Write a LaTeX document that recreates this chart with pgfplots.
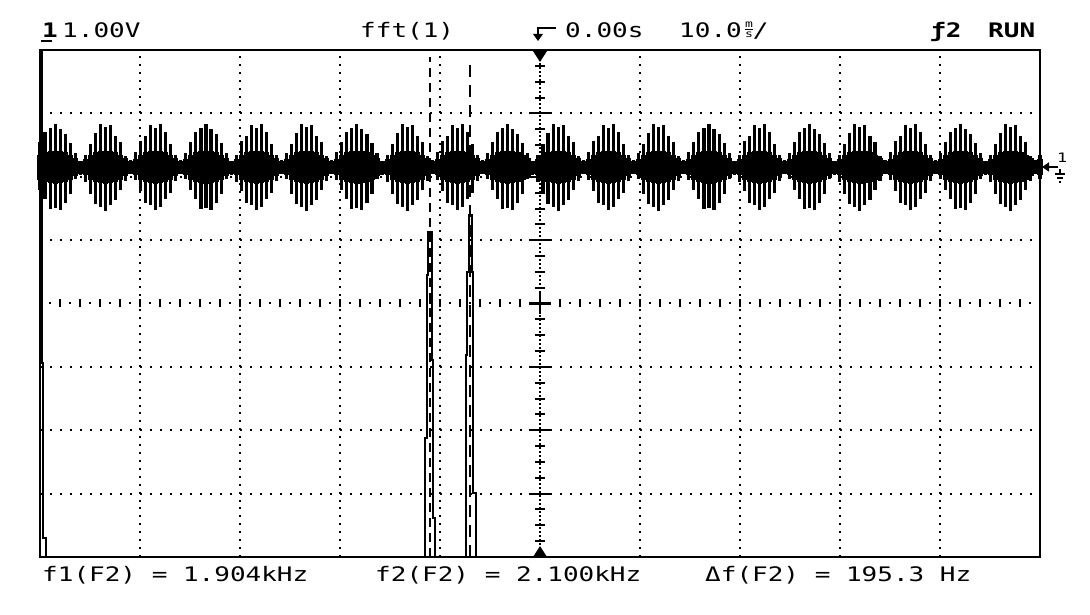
\documentclass[border=0pt]{standalone}
\usepackage{pgfplots}
\pgfplotsset{compat=1.18}
\usepackage{pgfplotstable}
\usepackage{fontspec}
\usetikzlibrary{arrows.meta}
\newfontfamily\oscfont[FakeStretch=1.3]{DejaVu Sans Mono}

% channel 1 trace: x (div), ground (div), upper / lower excursion (div), solid core half-height (div)
\pgfplotstableread{
x y ep em cp
0.000 6.15 0.40 0.36 0.20
0.050 6.15 0.56 0.50 0.24
0.101 6.15 0.62 0.66 0.25
0.151 6.15 0.69 0.64 0.26
0.201 6.15 0.60 0.68 0.25
0.252 6.15 0.52 0.56 0.24
0.302 6.15 0.38 0.42 0.20
0.352 6.15 0.22 0.18 0.14
0.402 6.15 0.10 0.12 0.10
0.453 6.15 0.20 0.24 0.13
0.503 6.15 0.36 0.42 0.20
0.553 6.15 0.54 0.58 0.24
0.604 6.15 0.68 0.62 0.25
0.654 6.15 0.64 0.69 0.26
0.704 6.15 0.66 0.60 0.25
0.755 6.15 0.50 0.52 0.24
0.805 6.15 0.40 0.36 0.20
0.855 6.15 0.18 0.22 0.14
0.905 6.15 0.12 0.10 0.10
0.956 6.15 0.24 0.20 0.13
1.006 6.15 0.42 0.38 0.20
1.056 6.15 0.50 0.56 0.24
1.107 6.15 0.66 0.60 0.25
1.157 6.15 0.62 0.68 0.26
1.207 6.15 0.69 0.63 0.25
1.258 6.15 0.56 0.50 0.24
1.308 6.15 0.36 0.40 0.20
1.358 6.15 0.20 0.22 0.14
1.408 6.15 0.11 0.11 0.10
1.459 6.15 0.22 0.18 0.13
1.509 6.15 0.40 0.36 0.20
1.559 6.15 0.56 0.50 0.24
1.610 6.15 0.62 0.66 0.25
1.660 6.15 0.69 0.64 0.26
1.710 6.15 0.60 0.68 0.25
1.761 6.15 0.52 0.56 0.24
1.811 6.15 0.38 0.42 0.20
1.861 6.15 0.22 0.18 0.14
1.911 6.15 0.10 0.12 0.10
1.962 6.15 0.20 0.24 0.13
2.012 6.15 0.42 0.38 0.20
2.062 6.15 0.50 0.56 0.24
2.113 6.15 0.66 0.60 0.25
2.163 6.15 0.62 0.68 0.26
2.213 6.15 0.69 0.63 0.25
2.264 6.15 0.56 0.50 0.24
2.314 6.15 0.36 0.40 0.20
2.364 6.15 0.20 0.22 0.14
2.414 6.15 0.11 0.11 0.10
2.465 6.15 0.22 0.18 0.13
2.515 6.15 0.36 0.42 0.20
2.565 6.15 0.54 0.58 0.24
2.616 6.15 0.68 0.62 0.25
2.666 6.15 0.64 0.69 0.26
2.716 6.15 0.66 0.60 0.25
2.767 6.15 0.50 0.52 0.24
2.817 6.15 0.40 0.36 0.20
2.867 6.15 0.18 0.22 0.14
2.917 6.15 0.12 0.10 0.10
2.968 6.15 0.24 0.20 0.13
3.018 6.15 0.40 0.36 0.20
3.068 6.15 0.56 0.50 0.24
3.119 6.15 0.62 0.66 0.25
3.169 6.15 0.69 0.64 0.26
3.219 6.15 0.60 0.68 0.25
3.270 6.15 0.52 0.56 0.24
3.320 6.15 0.38 0.42 0.20
3.370 6.15 0.22 0.18 0.14
3.420 6.15 0.10 0.12 0.10
3.471 6.15 0.20 0.24 0.13
3.521 6.15 0.36 0.42 0.20
3.571 6.15 0.54 0.58 0.24
3.622 6.15 0.68 0.62 0.25
3.672 6.15 0.64 0.69 0.26
3.722 6.15 0.66 0.60 0.25
3.773 6.15 0.50 0.52 0.24
3.823 6.15 0.40 0.36 0.20
3.873 6.15 0.18 0.22 0.14
3.923 6.15 0.12 0.10 0.10
3.974 6.15 0.24 0.20 0.13
4.024 6.15 0.42 0.38 0.20
4.074 6.15 0.50 0.56 0.24
4.125 6.15 0.66 0.60 0.25
4.175 6.15 0.62 0.68 0.26
4.225 6.15 0.69 0.63 0.25
4.276 6.15 0.56 0.50 0.24
4.326 6.15 0.36 0.40 0.20
4.376 6.15 0.20 0.22 0.14
4.426 6.15 0.11 0.11 0.10
4.477 6.15 0.22 0.18 0.13
4.527 6.15 0.40 0.36 0.20
4.577 6.15 0.56 0.50 0.24
4.628 6.15 0.62 0.66 0.25
4.678 6.15 0.69 0.64 0.26
4.728 6.15 0.60 0.68 0.25
4.779 6.15 0.52 0.56 0.24
4.829 6.15 0.38 0.42 0.20
4.879 6.15 0.22 0.18 0.14
4.929 6.15 0.10 0.12 0.10
4.980 6.15 0.20 0.24 0.13
5.030 6.15 0.36 0.42 0.20
5.080 6.15 0.54 0.58 0.24
5.131 6.15 0.68 0.62 0.25
5.181 6.15 0.64 0.69 0.26
5.231 6.15 0.66 0.60 0.25
5.282 6.15 0.50 0.52 0.24
5.332 6.15 0.40 0.36 0.20
5.382 6.15 0.18 0.22 0.14
5.432 6.15 0.12 0.10 0.10
5.483 6.15 0.24 0.20 0.13
5.533 6.15 0.42 0.38 0.20
5.583 6.15 0.50 0.56 0.24
5.634 6.15 0.66 0.60 0.25
5.684 6.15 0.62 0.68 0.26
5.734 6.15 0.69 0.63 0.25
5.785 6.15 0.56 0.50 0.24
5.835 6.15 0.36 0.40 0.20
5.885 6.15 0.20 0.22 0.14
5.935 6.15 0.11 0.11 0.10
5.986 6.15 0.22 0.18 0.13
6.036 6.15 0.36 0.42 0.20
6.086 6.15 0.54 0.58 0.24
6.137 6.15 0.68 0.62 0.25
6.187 6.15 0.64 0.69 0.26
6.237 6.15 0.66 0.60 0.25
6.288 6.15 0.50 0.52 0.24
6.338 6.15 0.40 0.36 0.20
6.388 6.15 0.18 0.22 0.14
6.438 6.15 0.12 0.10 0.10
6.489 6.15 0.24 0.20 0.13
6.539 6.15 0.40 0.36 0.20
6.589 6.15 0.56 0.50 0.24
6.640 6.15 0.62 0.66 0.25
6.690 6.15 0.69 0.64 0.26
6.740 6.15 0.60 0.68 0.25
6.791 6.15 0.52 0.56 0.24
6.841 6.15 0.38 0.42 0.20
6.891 6.15 0.22 0.18 0.14
6.941 6.15 0.10 0.12 0.10
6.992 6.15 0.20 0.24 0.13
7.042 6.15 0.42 0.38 0.20
7.092 6.15 0.50 0.56 0.24
7.143 6.15 0.66 0.60 0.25
7.193 6.15 0.62 0.68 0.26
7.243 6.15 0.69 0.63 0.25
7.294 6.15 0.56 0.50 0.24
7.344 6.15 0.36 0.40 0.20
7.394 6.15 0.20 0.22 0.14
7.444 6.15 0.11 0.11 0.10
7.495 6.15 0.22 0.18 0.13
7.545 6.15 0.40 0.36 0.20
7.595 6.15 0.56 0.50 0.24
7.646 6.15 0.62 0.66 0.25
7.696 6.15 0.69 0.64 0.26
7.746 6.15 0.60 0.68 0.25
7.797 6.15 0.52 0.56 0.24
7.847 6.15 0.38 0.42 0.20
7.897 6.15 0.22 0.18 0.14
7.947 6.15 0.10 0.12 0.10
7.998 6.15 0.20 0.24 0.13
8.048 6.15 0.36 0.42 0.20
8.098 6.15 0.54 0.58 0.24
8.149 6.15 0.68 0.62 0.25
8.199 6.15 0.64 0.69 0.26
8.249 6.15 0.66 0.60 0.25
8.300 6.15 0.50 0.52 0.24
8.350 6.15 0.40 0.36 0.20
8.400 6.15 0.18 0.22 0.14
8.450 6.15 0.12 0.10 0.10
8.501 6.15 0.24 0.20 0.13
8.551 6.15 0.42 0.38 0.20
8.601 6.15 0.50 0.56 0.24
8.652 6.15 0.66 0.60 0.25
8.702 6.15 0.62 0.68 0.26
8.752 6.15 0.69 0.63 0.25
8.803 6.15 0.56 0.50 0.24
8.853 6.15 0.36 0.40 0.20
8.903 6.15 0.20 0.22 0.14
8.953 6.15 0.11 0.11 0.10
9.004 6.15 0.22 0.18 0.13
9.054 6.15 0.40 0.36 0.20
9.104 6.15 0.56 0.50 0.24
9.155 6.15 0.62 0.66 0.25
9.205 6.15 0.69 0.64 0.26
9.255 6.15 0.60 0.68 0.25
9.306 6.15 0.52 0.56 0.24
9.356 6.15 0.38 0.42 0.20
9.406 6.15 0.22 0.18 0.14
9.456 6.15 0.10 0.12 0.10
9.507 6.15 0.20 0.24 0.13
9.557 6.15 0.36 0.42 0.20
9.607 6.15 0.54 0.58 0.24
9.658 6.15 0.68 0.62 0.25
9.708 6.15 0.64 0.69 0.26
9.758 6.15 0.66 0.60 0.25
9.809 6.15 0.50 0.52 0.24
9.859 6.15 0.40 0.36 0.20
9.909 6.15 0.18 0.22 0.14
9.959 6.15 0.12 0.10 0.10
10.000 6.15 0.20 0.18 0.13
}\wave

% FFT trace (div)
\pgfplotstableread{
x y
0 0
0 8
0.02 8
0.02 3.06
0.03 3.06
0.03 0.30
0.06 0.30
0.06 0
3.85 0
3.85 1.877
3.867 1.877
3.867 4.448
3.883 4.448
3.883 5.126
3.917 5.126
3.917 3.107
3.927 3.107
3.927 0.615
3.95 0.615
3.95 0
4.26 0
4.26 3.186
4.273 3.186
4.273 4.495
4.293 4.495
4.293 5.394
4.317 5.394
4.317 4.495
4.333 4.495
4.333 1.009
4.36 1.009
4.36 0
10 0
}\fft

\begin{document}
\begin{tikzpicture}[x=1bp,y=1bp,
  txt/.style={anchor=base west, inner sep=0pt, font=\oscfont\fontsize{20bp}{24bp}\selectfont}]
\path[use as bounding box, fill=white] (0,0) rectangle (1090,615);

% dotted graticule
\foreach \gx in {140,240,340,440,640,740,840,940}
  \draw[line width=2bp, dash pattern=on 2bp off 5.92bp] (\gx,58) -- (\gx,565);
\foreach \k in {1,2,3,5,6,7}
  \draw[line width=2bp, dash pattern=on 2bp off 8bp] (40,58+63.375*\k) -- (1040,58+63.375*\k);
% centre horizontal axis
\draw[line width=2bp, dash pattern=on 2bp off 8bp] (49,311.5) -- (1040,311.5);
\foreach \k in {1,...,49}
  \draw[line width=2bp] (40+20*\k,307.5) -- (40+20*\k,315.5);
% centre vertical axis
\draw[line width=1.6bp, dash pattern=on 1.6bp off 2.4bp] (540,58) -- (540,565);
\foreach \k in {1,...,31}
  \draw[line width=2bp] (535,58+15.84*\k) -- (545,58+15.84*\k);
\foreach \k in {1,...,7}
  \draw[line width=2bp] (529,58+63.375*\k) -- (551,58+63.375*\k);
\draw[line width=2.2bp] (529,311.5) -- (551,311.5) (540,300.5) -- (540,322.5);
\fill (533,564) -- (547,564) -- (540,553) -- cycle;
\fill (533,58) -- (547,58) -- (540,69) -- cycle;

\begin{axis}[at={(40bp,58bp)}, anchor=south west,
  width=1000bp, height=507bp, scale only axis,
  xmin=0, xmax=10, ymin=0, ymax=8,
  xtick=\empty, ytick=\empty, clip=false,
  axis line style={line width=2.4bp, black}]
  % channel 1 beat signal: solid core, then the carrier strokes
  \addplot[black, only marks, mark=none,
    error bars/.cd, y dir=both, y explicit, error mark=none,
    error bar style={line width=5.2bp, black, solid}]
    table[x=x, y=y, y error=cp] {\wave};
  \addplot[black, only marks, mark=none,
    error bars/.cd, y dir=both, y explicit, error mark=none,
    error bar style={line width=3.1bp, black, solid}]
    table[x=x, y=y, y error plus=ep, y error minus=em] {\wave};
  % FFT trace
  \addplot[black, line width=1.9bp, line join=miter] table[x=x, y=y] {\fft};
  % frequency cursors
  \addplot[black, line width=2bp, dash pattern=on 9bp off 6bp] coordinates {(3.90,0) (3.90,7.89)};
  \addplot[black, line width=2bp, dash pattern=on 12bp off 8bp] coordinates {(4.30,0) (4.30,7.79)};
\end{axis}

% header
\node[txt] at (42,577) {\bfseries 1};
\draw[line width=2bp] (41,573.5) -- (52,573.5);
\node[txt] at (62,577) {1.00V};
\node[txt] at (360,577) {fft(1)};
\draw[line width=2bp] (556,587) -- (538,587) -- (538,580);
\fill (533,581) -- (543,581) -- (538,574) -- cycle;
\node[txt] at (565,577) {0.00s};
\node[txt] at (679,577) {10.0\,{\fontsize{10bp}{10bp}\selectfont\shortstack{\underline{m}\\s}}/};
\node[txt] at (930,577) {\bfseries ƒ2};
\node[txt] at (988,577) {\bfseries RUN};

% channel 1 ground marker
\draw[line width=2bp, -{Triangle[length=7bp,width=9bp]}] (1058,448) -- (1042,448);
\node[anchor=base west, inner sep=0pt, font=\oscfont\fontsize{13bp}{13bp}\selectfont] at (1057,452) {1};
\draw[line width=1.5bp] (1060,446) -- (1060,441) (1055,441) -- (1065,441) (1057,437) -- (1063,437) (1059,433) -- (1061,433);

% footer
\node[txt] at (42,33) {f1(F2) = 1.904kHz};
\node[txt] at (375,33) {f2(F2) = 2.100kHz};
\node[txt] at (705,33) {Δf(F2) = 195.3 Hz};
\end{tikzpicture}
\end{document}
